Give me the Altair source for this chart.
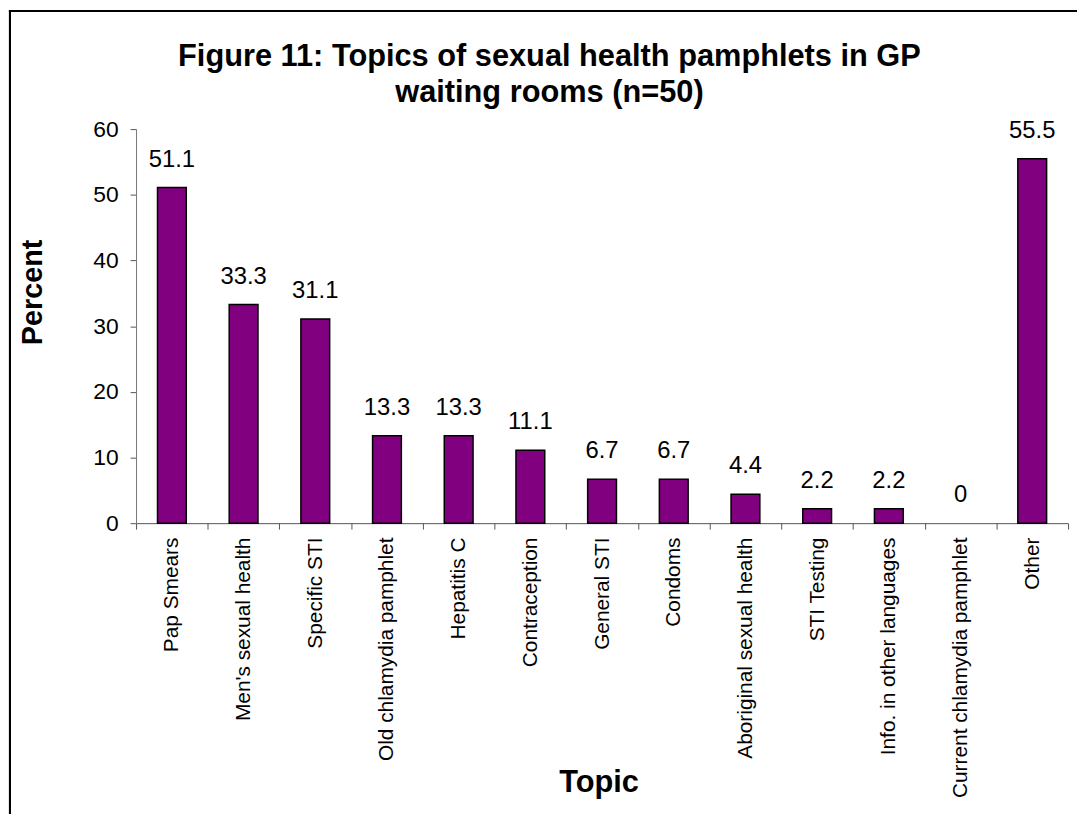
import altair as alt
import pandas as pd

topics = [
    "Pap Smears", "Men's sexual health", "Specific STI", "Old chlamydia pamphlet",
    "Hepatitis C", "Contraception", "General STI", "Condoms",
    "Aboriginal sexual health", "STI Testing", "Info. in other languages",
    "Current chlamydia pamphlet", "Other",
]
percents = [51.1, 33.3, 31.1, 13.3, 13.3, 11.1, 6.7, 6.7, 4.4, 2.2, 2.2, 0, 55.5]
labels = ["51.1", "33.3", "31.1", "13.3", "13.3", "11.1", "6.7", "6.7", "4.4", "2.2", "2.2", "0", "55.5"]
y_ticks = [0, 10, 20, 30, 40, 50, 60]

df = pd.DataFrame({"Topic": topics, "Percent": percents, "Label": labels})

FONT = "Liberation Sans"
W, H = 939, 397

x_enc = alt.X(
    "Topic:N", sort=topics,
    scale=alt.Scale(paddingInner=0, paddingOuter=0),
    axis=alt.Axis(
        title="Topic", labelAngle=-90, labelFontSize=21, labelFont=FONT, labelColor="black",
        labelAlign="right", labelBaseline="middle", labelPadding=8, labelLimit=400,
        tickBand="extent", tickSize=6, tickColor="#555555", domainColor="#555555",
        titleFont=FONT, titleFontSize=31, titleFontWeight="bold", titleColor="black",
        titleX=466, titleY=270, titleBaseline="alphabetic", titleAlign="center",
        grid=False,
    ),
)
y_enc = alt.Y(
    "Percent:Q",
    scale=alt.Scale(domain=[0, 60], nice=False),
    axis=alt.Axis(
        title="Percent", values=y_ticks, labelFontSize=23, labelFont=FONT, labelColor="black",
        labelPadding=12, tickSize=6, tickColor="#555555", domainColor="#777777",
        titleFont=FONT, titleFontSize=29, titleFontWeight="bold", titleColor="black",
        titleX=-104, titleY=164, titleAngle=-90, titleBaseline="middle", titleAlign="center",
        grid=False,
    ),
)

bars = alt.Chart(df).mark_bar(
    color="#800080", stroke="black", strokeWidth=1.5, size=29
).encode(
    x=x_enc, y=y_enc,
    strokeOpacity=alt.condition("datum.Percent > 0", alt.value(1), alt.value(0)),
)

text = alt.Chart(df).mark_text(
    font=FONT, fontSize=24, color="black", baseline="bottom", dy=-16
).encode(x=alt.X("Topic:N", sort=topics), y="Percent:Q", text="Label:N")

border_top = alt.Chart(df).mark_rule(color="black", strokeWidth=2).encode(
    x=alt.value(-128), x2=alt.value(1000), y=alt.value(-119)
)
border_left = alt.Chart(df).mark_rule(color="black", strokeWidth=2).encode(
    x=alt.value(-127), y=alt.value(-120), y2=alt.value(760)
)

chart = alt.layer(bars, text, border_top, border_left).properties(
    width=W, height=H,
    title=alt.TitleParams(
        text=["Figure 11: Topics of sexual health pamphlets in GP", "waiting rooms (n=50)"],
        font=FONT, fontSize=31, fontWeight="bold", color="black",
        anchor="middle", frame="group", dx=-53, dy=101, offset=0, lineHeight=37,
    ),
    autosize=alt.AutoSizeParams(type="none"),
    padding={"left": 129, "top": 119, "right": 9, "bottom": 290},
).configure_view(stroke=None)

chart.save("out.html", embed_options={"renderer": "svg", "actions": False})
